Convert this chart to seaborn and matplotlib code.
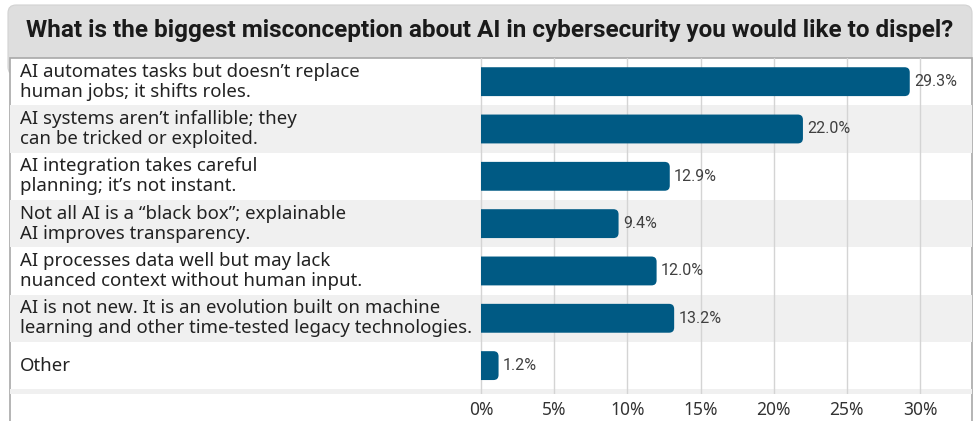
import numpy as np
import pandas as pd
import matplotlib
matplotlib.use("Agg")
import matplotlib.pyplot as plt
import seaborn as sns
from matplotlib.patches import FancyBboxPatch, Rectangle
from matplotlib.transforms import blended_transform_factory

# Daten
answers = [
    "AI automates tasks but doesn\u2019t replace\nhuman jobs; it shifts roles.",
    "AI systems aren\u2019t infallible; they\ncan be tricked or exploited.",
    "AI integration takes careful\nplanning; it\u2019s not instant.",
    "Not all AI is a \u201cblack box\u201d; explainable\nAI improves transparency.",
    "AI processes data well but may lack\nnuanced context without human input.",
    "AI is not new. It is an evolution built on machine\nlearning and other time-tested legacy technologies.",
    "Other",
]
shares = [29.3, 22.0, 12.9, 9.4, 12.0, 13.2, 1.2]
tick_vals = [0, 5, 10, 15, 20, 25, 30]
tick_labels = ["0%", "5%", "10%", "15%", "20%", "25%", "30%"]
title = "What is the biggest misconception about AI in cybersecurity you would like to dispel?"

df = pd.DataFrame({"answer": answers, "share": shares})

W, H = 977, 421
bar_col = "#005a84"
row_grey = "#f0f0f0"
narrow = ["Roboto", "DejaVu Sans"]

sns.set_style("white")
plt.rcParams["font.family"] = ["Noto Sans", "DejaVu Sans"]

fig = plt.figure(figsize=(W / 100, H / 100), dpi=100)

# Titelbox (Pixelkoordinaten)
title_box = FancyBboxPatch((8, H - 75), 964, 70, boxstyle="round,pad=0,rounding_size=8",
                           transform=None, facecolor="#dedede", edgecolor="#d2d2d2", lw=0.8, zorder=0)
fig.patches.append(title_box)
fig.text(490 / W, (H - 31) / H, title, ha="center", va="center", fontsize=17.5,
         fontweight="bold", family=narrow, color="#1a1a1a")

# Panel
panel = Rectangle((10 / W, -0.01), 962 / W, (H - 58) / H + 0.01, transform=fig.transFigure,
                  facecolor="white", edgecolor="#a8a8a8", lw=1.2, zorder=1)
fig.patches.append(panel)

ax = fig.add_axes([10 / W, (H - 394) / H, 962 / W, (394 - 58) / H])
ax.set_facecolor("none")
ax.set_zorder(2)

px_per_pct = (920 - 481) / 30
x_left = -(481 - 10) / px_per_pct
x_right = (972 - 481) / px_per_pct

sns.barplot(data=df, x="share", y="answer", color=bar_col, width=0.61, orient="h", ax=ax)

ax.set_xlim(x_left, x_right)
ax.set_ylim(6.6, -0.5)

# Zeilen abwechselnd grau
for i in range(len(answers) + 1):
    if i % 2 == 1:
        ax.axhspan(i - 0.5, i + 0.5, color=row_grey, zorder=0, lw=0)

# Balken mit runden Ecken
ypx = (394 - 58) / 7.1
aspect = (1 / ypx) / (1 / px_per_pct)
clip = Rectangle((0, -1), 50, 10, transform=ax.transData)
for p in list(ax.patches):
    x0, y0, w, h = p.get_x(), p.get_y(), p.get_width(), p.get_height()
    if w <= 0 or abs(h - 0.61) > 0.01:
        continue
    p.set_visible(False)
    rb = FancyBboxPatch((x0 - 1, y0), w + 1, h, boxstyle="round,pad=0,rounding_size=0.35",
                        mutation_aspect=aspect, facecolor=bar_col, edgecolor="none", zorder=3)
    ax.add_patch(rb)
    rb.set_clip_path(clip)
    ax.text(x0 + w + 0.3, y0 + h / 2, f"{w:.1f}%", ha="left", va="center", fontsize=11.5,
            family=narrow, color="#404040", zorder=4)

# Kategorien als Text
tr = blended_transform_factory(ax.transAxes, ax.transData)
for i, lab in enumerate(answers):
    ax.text(10 / 962, i, lab, transform=tr, ha="left", va="center", fontsize=13.4,
            color="#222222", linespacing=1.15)

ax.set_yticks([])
ax.set_ylabel("")
ax.set_xlabel("")
ax.set_xticks(tick_vals)
ax.set_xticklabels(tick_labels, fontsize=12.5, color="#333333")
ax.tick_params(axis="x", length=0, pad=5)
ax.grid(axis="x", color="#d4d4d4", lw=1)
ax.set_axisbelow(True)
for s in ax.spines.values():
    s.set_visible(False)

fig.savefig("out.png", dpi=100)
